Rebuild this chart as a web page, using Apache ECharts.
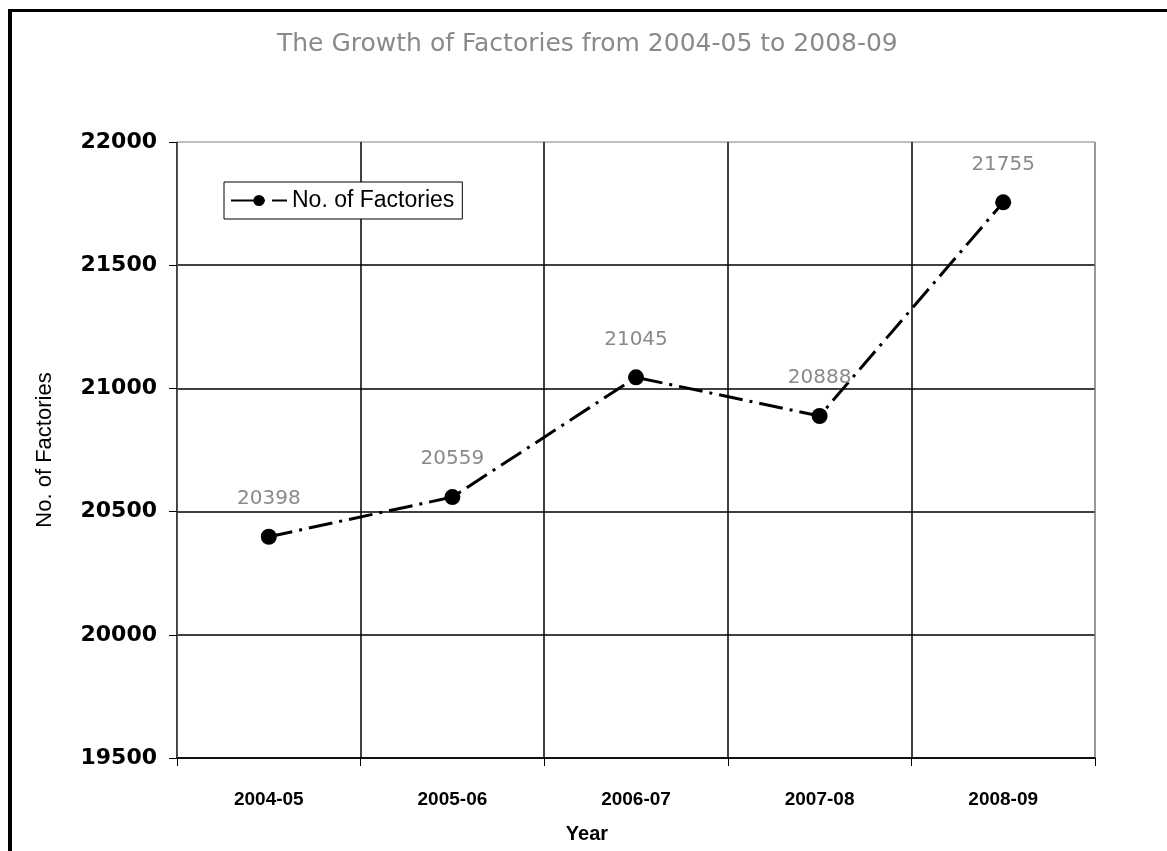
<!DOCTYPE html>
<html>
<head>
<meta charset="utf-8">
<script src="https://cdn.jsdelivr.net/npm/echarts@6/dist/echarts.min.js"></script>
<style>
html,body{margin:0;padding:0;background:#fff;}
#frame{position:absolute;left:8px;top:9px;width:1159px;height:842px;border-left:4px solid #000;border-top:3px solid #000;box-sizing:border-box;}
#chart{position:absolute;left:0;top:0;width:1167px;height:851px;}
</style>
</head>
<body>
<div id="frame"></div>
<div id="chart"></div>
<script>
var categories = ['2004-05', '2005-06', '2006-07', '2007-08', '2008-09'];
var factories = [20398, 20559, 21045, 20888, 21755];
var yTicks = [19500, 20000, 20500, 21000, 21500, 22000];
var seriesName = 'No. of Factories';
var titleText = 'The Growth of Factories from 2004-05 to 2008-09';

var chart = echarts.init(document.getElementById('chart'), null, {renderer: 'canvas'});
chart.setOption({
  backgroundColor: 'transparent',
  animation: false,
  title: {
    text: titleText,
    left: 272,
    top: 27,
    textStyle: {fontFamily: 'DejaVu Sans', fontSize: 25, fontWeight: 'normal', color: '#8a8a8a'}
  },
  legend: {
    data: [seriesName],
    left: 224,
    top: 182,
    orient: 'horizontal',
    backgroundColor: '#fff',
    borderColor: '#000',
    borderWidth: 1,
    padding: [7, 8, 7, 6],
    itemWidth: 56,
    itemHeight: 14,
    itemGap: 4,
    textStyle: {fontFamily: 'Liberation Sans, Arial', fontSize: 23, color: '#000'}
  },
  grid: {left: 177, right: 72, top: 142, bottom: 93, containLabel: false},
  xAxis: {
    type: 'category',
    data: categories,
    boundaryGap: true,
    name: 'Year',
    nameLocation: 'middle',
    nameGap: 66,
    nameTextStyle: {fontFamily: 'Liberation Sans, Arial', fontSize: 20, fontWeight: 'bold', color: '#000', padding: [0, 98, 0, 0]},
    axisLine: {lineStyle: {color: '#000', width: 1.5}},
    axisTick: {show: true, length: 8, lineStyle: {color: '#000'}},
    axisLabel: {margin: 32, fontFamily: 'Liberation Sans, Arial', fontSize: 19, fontWeight: 'bold', color: '#000'},
    splitLine: {show: true, lineStyle: {color: ['#000', '#000', '#000', '#000', '#000', '#777'], width: 1.5}}
  },
  yAxis: {
    type: 'value',
    min: yTicks[0],
    max: yTicks[yTicks.length - 1],
    interval: 500,
    name: seriesName,
    nameLocation: 'middle',
    nameGap: 121,
    nameTextStyle: {fontFamily: 'Liberation Sans, Arial', fontSize: 22, color: '#000'},
    axisLine: {show: true, lineStyle: {color: '#555', width: 1}},
    axisTick: {show: true, length: 8, lineStyle: {color: '#000'}},
    axisLabel: {
      margin: 20,
      fontFamily: 'DejaVu Sans',
      fontSize: 22,
      fontWeight: 'bold',
      color: '#000',
      formatter: function (v) { return String(v); }
    },
    splitLine: {show: true, lineStyle: {color: ['#000', '#000', '#000', '#000', '#000', '#aaa'], width: 1.5}}
  },
  series: [{
    name: seriesName,
    type: 'line',
    data: factories,
    symbol: 'circle',
    symbolSize: 16,
    itemStyle: {color: '#000'},
    lineStyle: {color: '#000', width: 3, type: [24, 7, 3, 7]},
    label: {
      show: true,
      position: 'top',
      distance: 20,
      fontFamily: 'DejaVu Sans',
      fontSize: 20,
      color: '#8a8a8a'
    }
  }]
});
</script>
</body>
</html>
